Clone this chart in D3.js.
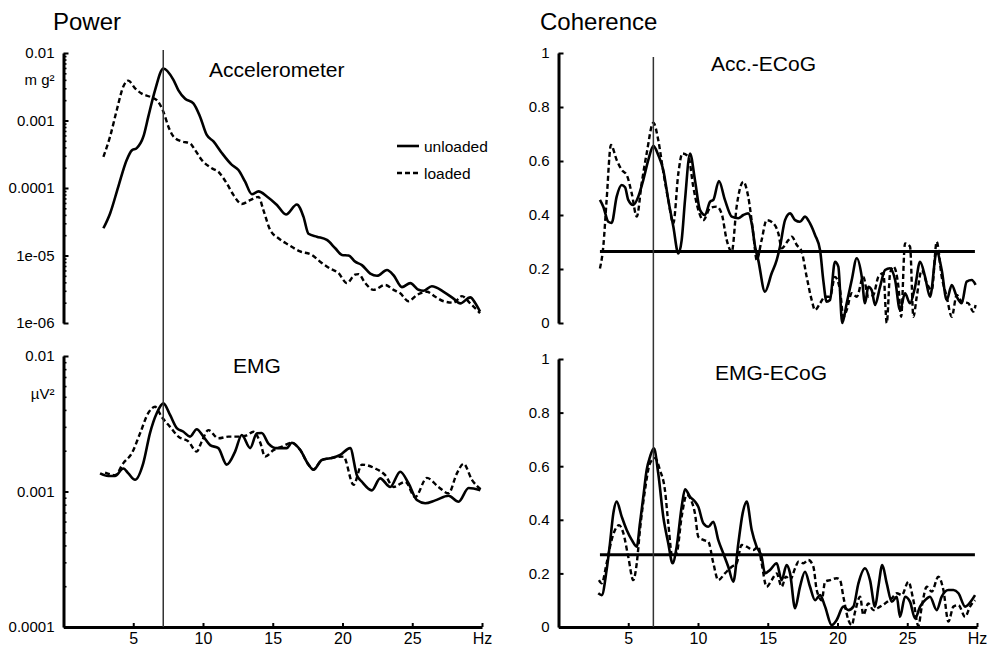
<!DOCTYPE html>
<html>
<head>
<meta charset="utf-8">
<script src="https://cdn.jsdelivr.net/npm/d3@7"></script>
<style>
    body { margin: 0; background: #fff; }
    svg { font-family: "Liberation Sans", Arial, sans-serif; }
</style>
</head>
<body>
<svg id="chart" width="993" height="652"></svg>
<script>
// ---- data: [frequency Hz, value] ----
var accUnloaded = [[2.86,2.53e-5],[3.34,4.2e-5],[3.93,1.05e-4],[4.53,2.6e-4],[4.89,3.6e-4],[5.25,3.9e-4],[5.73,5.8e-4],[6.08,1.14e-3],[6.56,2.8e-3],[7.16,5.9e-3],[7.88,4.0e-3],[8.24,2.8e-3],[8.72,2.1e-3],[9.31,1.8e-3],[9.79,1.14e-3],[10.27,6.1e-4],[10.75,4.9e-4],[11.35,3.3e-4],[12.07,2.2e-4],[12.54,1.85e-4],[13.02,1.24e-4],[13.5,8.1e-5],[13.98,8.9e-5],[14.58,7.5e-5],[15.3,5.6e-5],[15.95,4.05e-5],[16.73,5.7e-5],[17.2,3.76e-5],[17.56,2.1e-5],[18.16,1.9e-5],[18.88,1.7e-5],[19.48,1.28e-5],[19.96,1.02e-5],[20.43,1.0e-5],[20.91,8.1e-6],[21.39,7.2e-6],[21.99,5.4e-6],[22.47,5.0e-6],[23.19,6.1e-6],[23.66,5.1e-6],[24.26,3.4e-6],[24.86,3.9e-6],[25.45,3.1e-6],[25.8,3.0e-6],[26.4,3.5e-6],[27.25,2.9e-6],[27.96,2.3e-6],[28.44,1.95e-6],[29.16,2.4e-6],[29.5,2.0e-6],[29.86,1.48e-6]]

var accLoaded = [[2.86,2.9e-4],[3.34,5.8e-4],[3.82,1.43e-3],[4.29,3.2e-3],[4.65,3.9e-3],[5.13,3.0e-3],[5.61,2.5e-3],[6.2,2.25e-3],[6.69,2.0e-3],[7.16,1.35e-3],[7.52,8.1e-4],[7.88,5.8e-4],[8.48,4.9e-4],[9.07,4.6e-4],[9.43,3.65e-4],[9.91,2.6e-4],[10.63,1.96e-4],[11.1,1.74e-4],[11.7,1.17e-4],[12.18,7.9e-5],[12.78,5.8e-5],[13.38,6.6e-5],[13.98,7.4e-5],[14.33,4.7e-5],[14.81,2.4e-5],[15.41,1.8e-5],[16.13,1.44e-5],[16.96,1.15e-5],[17.8,1.02e-5],[18.4,8.1e-6],[19.12,6.4e-6],[19.71,5.5e-6],[20.31,3.9e-6],[20.9,5.2e-6],[21.15,5.3e-6],[21.63,3.9e-6],[22.22,3.1e-6],[23.06,3.66e-6],[23.66,3.1e-6],[24.14,2.75e-6],[24.73,2.1e-6],[25.33,2.6e-6],[26.05,2.9e-6],[26.65,2.45e-6],[27.25,2.1e-6],[27.96,2.0e-6],[28.56,2.5e-6],[29.16,1.95e-6],[29.86,1.4e-6]]

var emgUnloaded = [[2.62,1.36e-3],[3.21,1.30e-3],[3.69,1.30e-3],[4.29,1.48e-3],[4.65,1.36e-3],[5.13,1.22e-3],[5.72,1.62e-3],[6.2,2.7e-3],[6.69,3.8e-3],[7.16,4.47e-3],[7.64,3.67e-3],[8.12,2.94e-3],[8.6,2.76e-3],[9.07,2.54e-3],[9.55,2.88e-3],[10.03,2.54e-3],[10.51,2.2e-3],[11.1,2.09e-3],[11.7,1.58e-3],[12.3,1.97e-3],[12.78,2.61e-3],[13.38,2.09e-3],[13.86,2.69e-3],[14.21,2.7e-3],[14.69,2.26e-3],[15.3,2.09e-3],[16.0,2.09e-3],[16.37,2.29e-3],[16.96,2.03e-3],[17.56,1.58e-3],[17.92,1.45e-3],[18.52,1.71e-3],[19.12,1.76e-3],[19.83,1.86e-3],[20.55,2.09e-3],[21.03,1.32e-3],[21.39,1.18e-3],[22.1,1.02e-3],[22.7,1.25e-3],[23.42,1.08e-3],[24.14,1.4e-3],[24.73,1.15e-3],[25.33,8.65e-4],[25.93,8.2e-4],[26.65,8.6e-4],[27.6,9.3e-4],[28.32,8.4e-4],[29.04,1.06e-3],[29.88,1.02e-3]]

var emgLoaded = [[2.98,1.38e-3],[3.69,1.32e-3],[4.29,1.62e-3],[4.89,1.91e-3],[5.49,2.69e-3],[6.08,3.8e-3],[6.56,4.22e-3],[7.04,3.55e-3],[7.64,3.0e-3],[8.24,2.54e-3],[8.95,2.34e-3],[9.55,1.97e-3],[9.91,2.34e-3],[10.39,2.84e-3],[11.1,2.47e-3],[11.82,2.54e-3],[12.54,2.54e-3],[13.14,2.6e-3],[13.62,2.76e-3],[14.1,2.3e-3],[14.45,1.81e-3],[15.05,2.02e-3],[15.65,2.14e-3],[16.37,2.29e-3],[16.96,2.03e-3],[17.56,1.58e-3],[17.92,1.45e-3],[18.52,1.71e-3],[19.12,1.76e-3],[20.07,1.81e-3],[20.79,1.12e-3],[21.39,1.58e-3],[22.34,1.48e-3],[23.06,1.32e-3],[23.66,1.08e-3],[24.5,1.18e-3],[25.21,9.1e-4],[26.05,1.26e-3],[26.88,1.08e-3],[27.6,9.7e-4],[28.2,1.36e-3],[28.68,1.6e-3],[29.28,1.22e-3],[29.99,1.02e-3]]

var accCohUnloaded = [[2.97,0.456],[3.21,0.431],[3.57,0.375],[3.81,0.371],[4.17,0.468],[4.53,0.511],[4.77,0.503],[5.0,0.456],[5.36,0.437],[5.72,0.468],[6.08,0.53],[6.44,0.604],[6.8,0.656],[7.15,0.622],[7.51,0.567],[7.87,0.456],[8.23,0.357],[8.59,0.258],[8.83,0.307],[9.07,0.456],[9.43,0.628],[9.78,0.53],[10.14,0.419],[10.5,0.40],[10.86,0.449],[11.1,0.456],[11.5,0.526],[11.93,0.456],[12.42,0.394],[12.89,0.388],[13.25,0.40],[13.6,0.406],[13.85,0.369],[14.09,0.283],[14.32,0.233],[14.8,0.116],[15.28,0.184],[15.64,0.233],[15.88,0.283],[16.24,0.381],[16.6,0.406],[16.96,0.381],[17.31,0.375],[17.67,0.394],[18.03,0.369],[18.39,0.326],[18.75,0.27],[18.98,0.159],[19.22,0.079],[19.46,0.085],[19.82,0.227],[20.06,0.209],[20.34,0.0],[20.66,0.073],[21.02,0.159],[21.38,0.24],[21.74,0.171],[21.97,0.073],[22.21,0.134],[22.45,0.122],[22.69,0.067],[23.05,0.134],[23.41,0.196],[23.77,0.203],[24.13,0.159],[24.48,0.048],[24.84,0.11],[25.2,0.073],[25.56,0.134],[25.92,0.227],[26.28,0.171],[26.63,0.097],[27.11,0.264],[27.47,0.196],[27.83,0.085],[28.19,0.141],[28.55,0.097],[28.9,0.073],[29.26,0.153],[29.62,0.159],[29.9,0.141]]

var accCohLoaded = [[2.97,0.202],[3.21,0.283],[3.45,0.456],[3.76,0.659],[4.17,0.604],[4.53,0.567],[4.89,0.548],[5.25,0.48],[5.61,0.394],[5.96,0.517],[6.32,0.628],[6.8,0.742],[7.15,0.678],[7.51,0.56],[7.87,0.456],[8.23,0.369],[8.59,0.554],[8.88,0.628],[9.31,0.616],[9.66,0.505],[10.02,0.419],[10.38,0.381],[10.86,0.425],[11.33,0.431],[11.69,0.406],[12.06,0.307],[12.42,0.264],[12.77,0.431],[13.25,0.523],[13.6,0.468],[13.96,0.332],[14.21,0.233],[14.56,0.307],[14.92,0.381],[15.4,0.369],[15.76,0.332],[16.0,0.277],[16.48,0.307],[16.72,0.32],[17.08,0.289],[17.43,0.264],[17.79,0.171],[18.15,0.085],[18.39,0.048],[18.75,0.073],[19.11,0.097],[19.46,0.097],[19.82,0.171],[20.18,0.122],[20.42,0.023],[20.66,0.048],[21.02,0.11],[21.38,0.097],[21.85,0.171],[22.21,0.097],[22.57,0.104],[22.93,0.171],[23.29,0.184],[23.53,0.0],[23.77,0.184],[24.01,0.209],[24.37,0.134],[24.56,0.023],[24.84,0.295],[25.2,0.283],[25.44,0.023],[25.68,0.097],[26.04,0.196],[26.4,0.147],[26.76,0.122],[27.11,0.301],[27.47,0.171],[27.83,0.097],[28.19,0.023],[28.55,0.104],[28.9,0.079],[29.38,0.073],[29.74,0.042],[29.9,0.067]]

var emgCohUnloaded = [[2.85,0.126],[3.1,0.119],[3.45,0.213],[3.69,0.312],[3.93,0.424],[4.17,0.468],[4.53,0.412],[4.89,0.362],[5.25,0.325],[5.61,0.30],[5.84,0.387],[6.08,0.486],[6.32,0.586],[6.56,0.635],[6.84,0.667],[7.15,0.573],[7.51,0.412],[7.87,0.312],[8.18,0.238],[8.47,0.30],[8.83,0.449],[9.07,0.514],[9.43,0.486],[9.78,0.468],[10.02,0.449],[10.38,0.387],[10.74,0.374],[11.1,0.393],[11.45,0.325],[11.81,0.275],[12.17,0.225],[12.53,0.169],[12.89,0.312],[13.2,0.424],[13.49,0.468],[13.85,0.362],[14.2,0.30],[14.56,0.262],[14.8,0.20],[15.16,0.213],[15.64,0.238],[16.0,0.175],[16.35,0.231],[16.6,0.20],[16.96,0.07],[17.31,0.15],[17.67,0.206],[18.03,0.15],[18.39,0.10],[18.75,0.119],[19.11,0.076],[19.58,0.007],[19.94,0.026],[20.42,0.076],[20.78,0.063],[21.14,0.076],[21.5,0.163],[21.97,0.219],[22.33,0.175],[22.69,0.076],[22.93,0.15],[23.21,0.231],[23.53,0.163],[23.89,0.094],[24.25,0.113],[24.48,0.038],[24.84,0.113],[25.2,0.094],[25.56,0.032],[25.92,0.076],[26.28,0.10],[26.63,0.113],[27.11,0.063],[27.47,0.113],[27.95,0.138],[28.31,0.138],[28.67,0.126],[29.15,0.076],[29.62,0.10],[29.86,0.119]]

var emgCohLoaded = [[2.9,0.175],[3.1,0.163],[3.45,0.238],[3.81,0.325],[4.05,0.362],[4.34,0.38],[4.65,0.35],[5.0,0.262],[5.36,0.175],[5.61,0.238],[5.84,0.362],[6.2,0.511],[6.56,0.611],[6.92,0.63],[7.27,0.586],[7.63,0.511],[7.87,0.387],[8.16,0.262],[8.47,0.275],[8.83,0.412],[9.19,0.493],[9.55,0.468],[9.78,0.424],[10.02,0.337],[10.38,0.325],[10.74,0.318],[11.1,0.238],[11.45,0.175],[11.93,0.20],[12.42,0.225],[12.77,0.238],[13.13,0.306],[13.49,0.30],[13.96,0.287],[14.32,0.30],[14.56,0.238],[14.92,0.15],[15.28,0.175],[15.64,0.20],[16.0,0.15],[16.3,0.188],[16.6,0.175],[16.96,0.219],[17.2,0.244],[17.55,0.238],[17.91,0.25],[18.27,0.225],[18.51,0.138],[18.87,0.10],[19.11,0.169],[19.46,0.175],[19.94,0.182],[20.18,0.175],[20.42,0.113],[20.78,0.026],[21.02,0.007],[21.26,0.057],[21.62,0.113],[21.85,0.045],[22.21,0.088],[22.57,0.063],[23.05,0.076],[23.41,0.088],[23.89,0.107],[24.25,0.126],[24.61,0.119],[25.08,0.169],[25.44,0.10],[25.8,0.004],[26.04,0.076],[26.4,0.15],[26.76,0.132],[27.23,0.188],[27.59,0.138],[27.95,0.02],[28.31,0.076],[28.67,0.082],[29.15,0.038],[29.5,0.076],[29.86,0.10]]

// tick values / labels
var freqTicks = [5, 10, 15, 20, 25, 30]
var freqTickLabels = ["5", "10", "15", "20", "25", "Hz"]
var accTicks = [0.01, 0.001, 0.0001, 1e-5, 1e-6]
var accTickLabels = ["0.01", "0.001", "0.0001", "1e-05", "1e-06"]
var emgTicks = [0.01, 0.001, 0.0001]
var emgTickLabels = ["0.01", "0.001", "0.0001"]
var cohTicks = [0, 0.2, 0.4, 0.6, 0.8, 1]
var cohTickLabels = ["0", "0.2", "0.4", "0.6", "0.8", "1"]

// tremor peak marker (Hz) per column and coherence significance level per panel
var peakFreq = [7.15, 6.8]
var cohThreshold = [0.265, 0.27]
var thresholdSpan = [2.97, 29.85]

var seriesNames = ["unloaded", "loaded"]

var svg = d3.select("#chart")

svg.append("rect").attr("width", 993).attr("height", 652).attr("fill", "#fff")

// layout of the four panels
var panels = [
    {title: "Accelerometer", tx: 209, ty: 77, unit: "m g²", uy: 85, log: true,
     x0: 63.5, x1: 482, y0: 323, y1: 53, domain: [1e-6, 0.01],
     ticks: accTicks, labels: accTickLabels, solid: accUnloaded, dashed: accLoaded, xaxis: false},
    {title: "EMG", tx: 233, ty: 373, unit: "µV²", uy: 399, log: true,
     x0: 63.5, x1: 482, y0: 627, y1: 356, domain: [1e-4, 0.01],
     ticks: emgTicks, labels: emgTickLabels, solid: emgUnloaded, dashed: emgLoaded, xaxis: true},
    {title: "Acc.-ECoG", tx: 711, ty: 71, log: false,
     x0: 558.5, x1: 977, y0: 323, y1: 53, domain: [0, 1],
     ticks: cohTicks, labels: cohTickLabels, solid: accCohUnloaded, dashed: accCohLoaded, xaxis: false, thr: cohThreshold[0]},
    {title: "EMG-ECoG", tx: 715, ty: 380, log: false,
     x0: 558.5, x1: 977, y0: 627, y1: 359, domain: [0, 1],
     ticks: cohTicks, labels: cohTickLabels, solid: emgCohUnloaded, dashed: emgCohLoaded, xaxis: true, thr: cohThreshold[1]}
]

var scales = []

panels.forEach(function(p, i){
    var xScale = d3.scaleLinear().domain([0, 30]).range([p.x0, p.x1])
    var yScale = p.log
        ? d3.scaleLog().domain(p.domain).range([p.y0, p.y1])
        : d3.scaleLinear().domain(p.domain).range([p.y0, p.y1])
    scales.push({x: xScale, y: yScale})

    var g = svg.append("g")

    //minor log ticks (2..9 of each decade)
    if(p.log){
        var minor = yScale.ticks().filter(function(d){
            var m = Math.round(d / Math.pow(10, Math.floor(Math.log10(d) + 1e-9)))
            return m != 1
        })
        var minorAxis = g.append("g")
            .attr("transform", `translate(${p.x0},0)`)
            .call(d3.axisLeft(yScale).tickValues(minor).tickSize(-3).tickFormat(""))
        minorAxis.select(".domain").remove()
        minorAxis.selectAll("line").attr("stroke", "#000").attr("stroke-width", 1.6)
    }

    var yAxis = g.append("g")
        .attr("transform", `translate(${p.x0},0)`)
        .call(d3.axisLeft(yScale)
            .tickValues(p.ticks)
            .tickFormat(function(d, k){ return p.labels[k] })
            .tickSize(-5)
            .tickSizeOuter(0)
            .tickPadding(9))
    yAxis.select(".domain").attr("stroke", "#000").attr("stroke-width", 3)
    yAxis.selectAll("line").attr("stroke", "#000").attr("stroke-width", 2)
    yAxis.selectAll("text").attr("font-size", 15).attr("fill", "#000")
        .attr("font-family", "Liberation Sans, Arial, sans-serif")

    if(p.xaxis){
        var xAxis = g.append("g")
            .attr("transform", `translate(0,${p.y0})`)
            .call(d3.axisBottom(xScale)
                .tickValues(freqTicks)
                .tickFormat(function(d, k){ return freqTickLabels[k] })
                .tickSize(-4)
                .tickSizeOuter(0)
                .tickPadding(6))
        xAxis.select(".domain").attr("stroke", "#000").attr("stroke-width", 3)
        xAxis.selectAll("line").attr("stroke", "#000").attr("stroke-width", 2)
        xAxis.selectAll("text").attr("font-size", 16).attr("fill", "#000")
            .attr("font-family", "Liberation Sans, Arial, sans-serif")
    }

    //significance line for coherence
    if(p.thr !== undefined){
        g.append("line")
            .attr("x1", xScale(thresholdSpan[0]))
            .attr("x2", xScale(thresholdSpan[1]))
            .attr("y1", yScale(p.thr))
            .attr("y2", yScale(p.thr))
            .attr("stroke", "#000")
            .attr("stroke-width", 3)
    }

    var line = d3.line()
        .x(d => xScale(d[0]))
        .y(d => yScale(d[1]))
        .curve(d3.curveMonotoneX)

    g.append("path")
        .attr("d", line(p.dashed))
        .attr("fill", "none")
        .attr("stroke", "#000")
        .attr("stroke-width", 2.4)
        .attr("stroke-dasharray", "5,3")
        .attr("stroke-linejoin", "round")

    g.append("path")
        .attr("d", line(p.solid))
        .attr("fill", "none")
        .attr("stroke", "#000")
        .attr("stroke-width", 2.6)
        .attr("stroke-linejoin", "round")

    g.append("text")
        .attr("x", p.tx)
        .attr("y", p.ty)
        .attr("font-size", 21)
        .text(p.title)

    if(p.unit){
        g.append("text")
            .attr("x", p.x0 - 9)
            .attr("y", p.uy)
            .attr("text-anchor", "end")
            .attr("font-size", 15)
            .text(p.unit)
    }
})

// vertical lines at the tremor peak, through both panels of a column
var vTop = [50, 57]
;[0, 2].forEach(function(pi, c){
    var xs = scales[pi].x
    svg.append("line")
        .attr("x1", xs(peakFreq[c])).attr("x2", xs(peakFreq[c]))
        .attr("y1", vTop[c]).attr("y2", panels[pi + 1].y0)
        .attr("stroke", "#333")
        .attr("stroke-width", 1.5)
})

// column headings
svg.append("text").attr("x", 53).attr("y", 30).attr("font-size", 24).text("Power")
svg.append("text").attr("x", 540).attr("y", 30).attr("font-size", 24).text("Coherence")

// legend
var legend = svg.append("g")
seriesNames.forEach(function(name, i){
    var ly = 146 + i * 27
    legend.append("line")
        .attr("x1", 397).attr("x2", 419)
        .attr("y1", ly).attr("y2", ly)
        .attr("stroke", "#000")
        .attr("stroke-width", 2.6)
        .attr("stroke-dasharray", i == 1 ? "5,3" : null)
    legend.append("text")
        .attr("x", 424)
        .attr("y", ly + 5.5)
        .attr("font-size", 15.5)
        .text(name)
})
</script>
</body>
</html>
